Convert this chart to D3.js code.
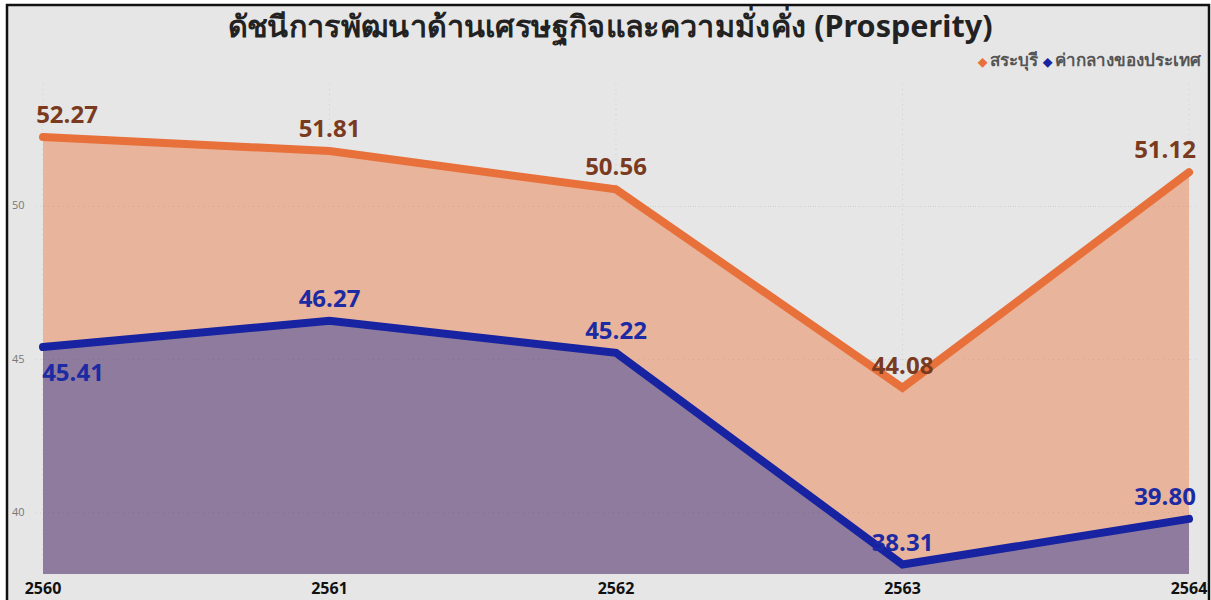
<!DOCTYPE html>
<html>
<head>
<meta charset="utf-8">
<script src="https://cdn.jsdelivr.net/npm/d3@7"></script>
<style>
  body { margin: 0; background: #fff; }
  svg { display: block; }
</style>
</head>
<body>
<div class="chart"></div>
<script>
const years = ['2560', '2561', '2562', '2563', '2564'];
const saraburi = [52.27, 51.81, 50.56, 44.08, 51.12];
const national = [45.41, 46.27, 45.22, 38.31, 39.80];
const yTicks = [40, 45, 50];
const seriesNames = ['สระบุรี', 'ค่ากลางของประเทศ'];

const width = 1211;
const height = 600;

const svg = d3.select('.chart').append('svg')
    .attr('width', width)
    .attr('height', height);

// frame
svg.append('rect')
    .attr('x', 7).attr('y', 5)
    .attr('width', width - 9).attr('height', height)
    .attr('fill', '#e6e6e6')
    .attr('stroke', '#111')
    .attr('stroke-width', 2.5);

const x = d3.scalePoint().domain(years).range([43, 1189]);
const y = d3.scaleLinear().domain([38, 54]).range([574, 84]);

// grid
svg.append('g').selectAll('line')
    .data(yTicks)
    .join('line')
    .attr('x1', 35).attr('x2', 1196)
    .attr('y1', d => y(d)).attr('y2', d => y(d))
    .attr('stroke', '#cfcfcf')
    .attr('stroke-dasharray', '1,4');

svg.append('g').selectAll('line')
    .data(years)
    .join('line')
    .attr('x1', d => x(d)).attr('x2', d => x(d))
    .attr('y1', 84).attr('y2', 574)
    .attr('stroke', '#cfcfcf')
    .attr('stroke-dasharray', '1,4');

const area = d3.area()
    .x((d, i) => x(years[i]))
    .y0(y(38))
    .y1(d => y(d));
const line = d3.line()
    .x((d, i) => x(years[i]))
    .y(d => y(d));

svg.append('path').datum(saraburi)
    .attr('d', area)
    .attr('fill', '#e8b49b');
svg.append('path').datum(national)
    .attr('d', area)
    .attr('fill', '#8f7b9d');

// gridlines over fills (faint)
svg.append('g').selectAll('line')
    .data(yTicks)
    .join('line')
    .attr('x1', 43).attr('x2', 1189)
    .attr('y1', d => y(d)).attr('y2', d => y(d))
    .attr('stroke', '#000')
    .attr('stroke-opacity', 0.08)
    .attr('stroke-dasharray', '1,4');

svg.append('path').datum(saraburi)
    .attr('d', line)
    .attr('fill', 'none')
    .attr('stroke', '#e8703a')
    .attr('stroke-width', 8)
    .attr('stroke-linecap', 'round')
    .attr('stroke-linejoin', 'miter');
svg.append('path').datum(national)
    .attr('d', line)
    .attr('fill', 'none')
    .attr('stroke', '#1723a0')
    .attr('stroke-width', 8)
    .attr('stroke-linecap', 'round')
    .attr('stroke-linejoin', 'miter');

// y axis labels
svg.append('g').selectAll('text')
    .data(yTicks)
    .join('text')
    .attr('x', 12)
    .attr('y', d => y(d))
    .attr('dominant-baseline', 'middle')
    .attr('fill', '#777')
    .style('font-family', 'Open Sans, sans-serif')
    .style('font-size', '11px')
    .text(d => d);

// x axis labels
svg.append('g').selectAll('text')
    .data(years)
    .join('text')
    .attr('x', d => x(d))
    .attr('y', 594)
    .attr('text-anchor', 'middle')
    .attr('fill', '#111')
    .style('font-family', 'Open Sans, sans-serif')
    .style('font-size', '16px')
    .style('font-weight', 'bold')
    .text(d => d);

// data labels
function clampX(i) {
    const cx = x(years[i]);
    return Math.min(Math.max(cx, 67), 1165);
}
const labelFont = 'Open Sans, sans-serif';
svg.append('g').selectAll('text')
    .data(saraburi)
    .join('text')
    .attr('x', (d, i) => clampX(i))
    .attr('y', d => y(d) - 14)
    .attr('text-anchor', 'middle')
    .attr('fill', '#7a3a20')
    .style('font-family', labelFont)
    .style('font-size', '24px')
    .style('font-weight', 'bold')
    .text(d => d.toFixed(2));

svg.append('g').selectAll('text')
    .data(national)
    .join('text')
    .attr('x', (d, i) => i === 0 ? 73 : clampX(i))
    .attr('y', (d, i) => i === 0 ? y(d) + 34 : y(d) - 14)
    .attr('text-anchor', 'middle')
    .attr('fill', '#1c2aa3')
    .style('font-family', labelFont)
    .style('font-size', '24px')
    .style('font-weight', 'bold')
    .text(d => d.toFixed(2));

// title
svg.append('text')
    .attr('x', 610)
    .attr('y', 37)
    .attr('text-anchor', 'middle')
    .attr('fill', '#222')
    .style('font-family', '"Liberation Sans Narrow", "Noto Sans", sans-serif')
    .style('font-size', '30px')
    .style('font-weight', 'bold')
    .attr('textLength', 765)
    .attr('lengthAdjust', 'spacingAndGlyphs')
    .text('ดัชนีการพัฒนาด้านเศรษฐกิจและความมั่งคั่ง (Prosperity)');

// legend
const legend = svg.append('text')
    .attr('x', 1201)
    .attr('y', 66)
    .attr('text-anchor', 'end')
    .attr('fill', '#555')
    .style('font-family', '"Noto Sans", sans-serif')
    .style('font-size', '17px')
    .style('font-weight', 'bold');
legend.append('tspan').attr('fill', '#e8703a').style('font-size', '12px').text('◆ ');
legend.append('tspan').text(seriesNames[0] + ' ');
legend.append('tspan').attr('fill', '#1723a0').style('font-size', '12px').text('◆ ');
legend.append('tspan').text(seriesNames[1]);
</script>
</body>
</html>
